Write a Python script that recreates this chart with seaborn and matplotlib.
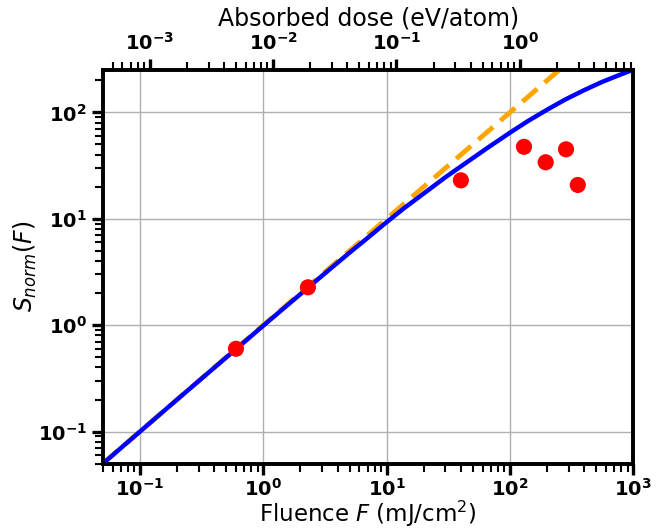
import numpy as np
import pandas as pd
import matplotlib
matplotlib.use("Agg")
import matplotlib.pyplot as plt
import seaborn as sns

# Data
model_F = [0.05, 0.1, 0.2, 0.5, 1.0, 2.0, 3.0, 5.0, 7.0, 10.0, 14.0, 20.0, 30.0, 45.0,
           65.0, 100.0, 140.0, 200.0, 280.0, 400.0, 550.0, 750.0, 1000.0]
model_S = [0.05, 0.1, 0.2, 0.497, 0.99, 1.96, 2.92, 4.8, 6.6, 9.3, 12.7, 17.3, 24.6, 34.2,
           46.0, 64.5, 83.0, 106.0, 132.0, 162.0, 192.0, 222.0, 252.0]
linear_F = [0.05, 1000.0]
linear_S = [0.05, 1000.0]
exp_F = [0.60, 2.3, 40.0, 130.0, 195.0, 285.0, 355.0]
exp_S = [0.60, 2.27, 23.0, 47.5, 34.0, 45.0, 20.8]
dose_per_fluence = 1.0 / 120.0

sns.set_style("white")
plt.rcParams["font.family"] = ["DejaVu Sans"]
plt.rcParams.update({"text.color": "black", "axes.labelcolor": "black",
                     "xtick.color": "black", "ytick.color": "black",
                     "axes.edgecolor": "black"})

fig = plt.figure(figsize=(6.68, 5.31), dpi=100)
ax = fig.add_axes([0.154, 0.127, 0.794, 0.741])

df_model = pd.DataFrame({"F": model_F, "S": model_S})
df_lin = pd.DataFrame({"F": linear_F, "S": linear_S})
df_exp = pd.DataFrame({"F": exp_F, "S": exp_S})

sns.lineplot(data=df_lin, x="F", y="S", ax=ax, color="orange", lw=3.5,
             linestyle=(0, (4, 2)), zorder=3)
sns.lineplot(data=df_model, x="F", y="S", ax=ax, color="blue", lw=3.2, zorder=4)
sns.scatterplot(data=df_exp, x="F", y="S", ax=ax, color="red", s=135,
                edgecolor="none", zorder=5)

ax.set_xscale("log")
ax.set_yscale("log")
ax.set_xlim(0.05, 1000)
ax.set_ylim(0.05, 250)
ax.grid(True, which="major", color="#b0b0b0", lw=1)
ax.set_axisbelow(True)

for s in ax.spines.values():
    s.set_linewidth(2.6)
    s.set_color("black")

ax.tick_params(which="major", direction="out", length=8, width=2.4, labelsize=14,
               pad=2.5, bottom=True, left=True, top=False, right=False, colors="black")
ax.tick_params(which="minor", direction="out", length=5.5, width=1.5,
               bottom=True, left=True, top=False, right=False, colors="black")
ax.tick_params(axis="y", which="major", pad=3.5)
for lab in ax.get_xticklabels() + ax.get_yticklabels():
    lab.set_fontweight("bold")

ax.set_xlabel(r"Fluence $F$ (mJ/cm$^2$)", fontsize=16.5, labelpad=-1)
ax.set_ylabel(r"$S_{norm}(F)$", fontsize=17, labelpad=-1)

ax2 = ax.twiny()
ax2.set_xscale("log")
ax2.set_xlim(0.05 * dose_per_fluence, 1000 * dose_per_fluence)
ax2.tick_params(which="major", direction="out", length=8, width=2.4, labelsize=14,
                pad=4, colors="black")
ax2.tick_params(which="minor", direction="out", length=5.5, width=1.5, colors="black")
for lab in ax2.get_xticklabels():
    lab.set_fontweight("bold")
ax2.set_xlabel("Absorbed dose (eV/atom)", fontsize=17, labelpad=4)
for s in ax2.spines.values():
    s.set_linewidth(2.6)
    s.set_color("black")

fig.savefig("out.png", dpi=100)
